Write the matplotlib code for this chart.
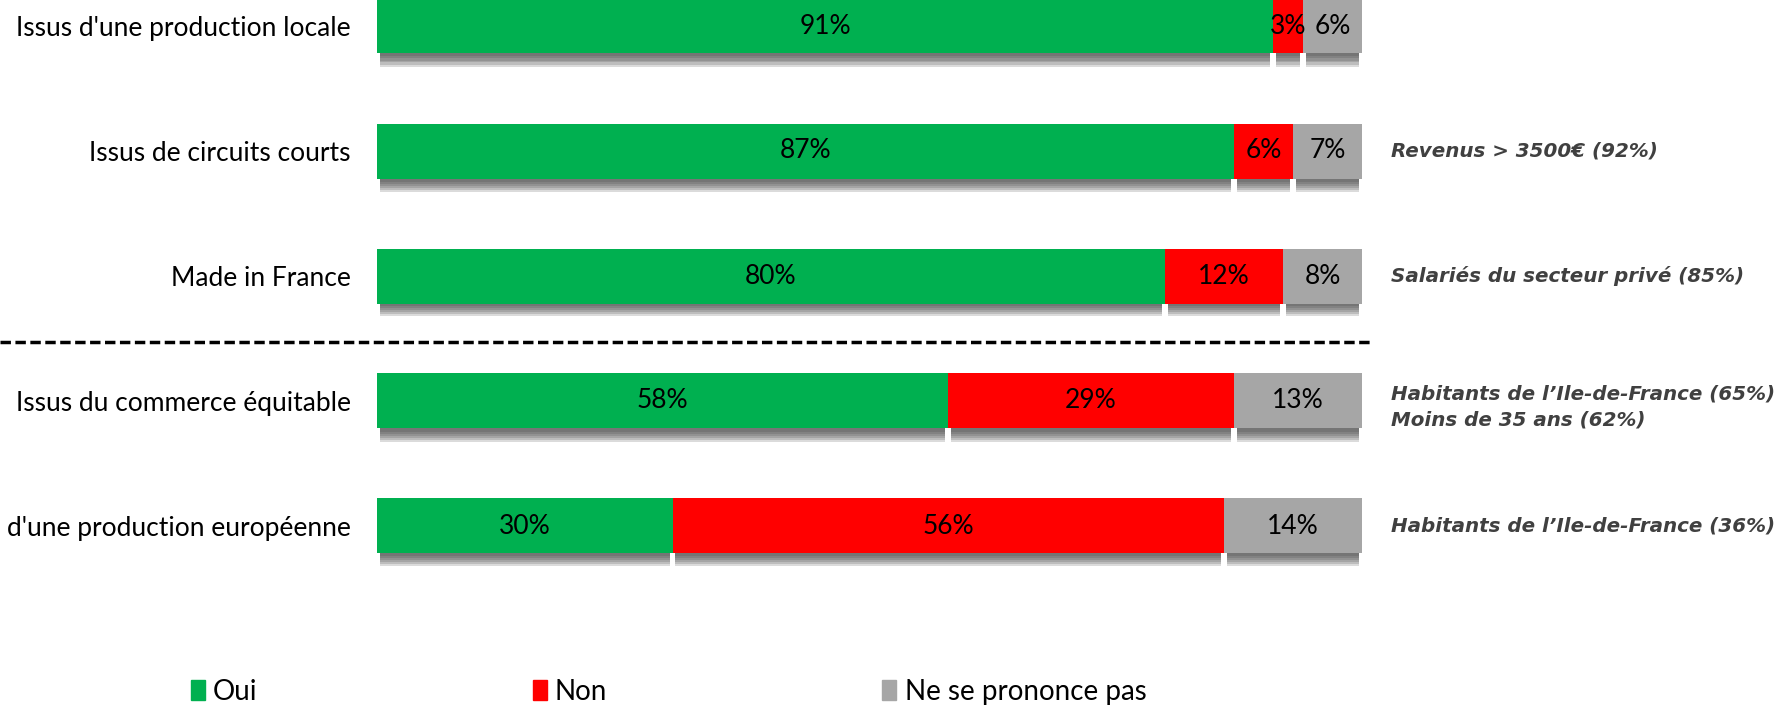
import matplotlib.pyplot as plt
from matplotlib.patches import Patch

# data
categories = ["Issus d'une production locale", "Issus de circuits courts", "Made in France",
              "Issus du commerce équitable", "d'une production européenne"]
oui = [91, 87, 80, 58, 30]
non = [3, 6, 12, 29, 56]
nsp = [6, 7, 8, 13, 14]
notes = ["", "Revenus > 3500€ (92%)", "Salariés du secteur privé (85%)",
         "Habitants de l’Ile-de-France (65%)\nMoins de 35 ans (62%)",
         "Habitants de l’Ile-de-France (36%)"]
series_names = ["Oui", "Non", "Ne se prononce pas"]
colors = ['#00B050', '#FF0000', '#A6A6A6']

plt.rcParams['font.family'] = ['Lato', 'DejaVu Sans']

W, H = 1787, 707
fig = plt.figure(figsize=(W / 100, H / 100), dpi=100)
ax = fig.add_axes([377 / W, 0, 985 / W, 1])

pitch = 125.0  # px between bars
y0 = 26.0      # px centre of first bar
ax.set_xlim(0, 100)
ax.set_ylim((H - y0) / pitch, -y0 / pitch)
bar_h = 55 / pitch

ypos = list(range(len(categories)))
series = [oui, non, nsp]

# soft shadow under each segment
for i, y in enumerate(ypos):
    left = 0
    for vals in series:
        v = vals[i]
        for off in [3, 5, 7, 9, 11, 13]:
            ax.barh(y + off / pitch, v - 0.6, left=left + 0.3, height=bar_h,
                    color='#404040', alpha=0.19, zorder=1, linewidth=0)
        left += v

# bars
lefts = [0] * len(categories)
for vals, col, name in zip(series, colors, series_names):
    ax.barh(ypos, vals, left=lefts, height=bar_h, color=col, zorder=3, linewidth=0)
    for y, v, l in zip(ypos, vals, lefts):
        ax.text(l + v / 2, y, f"{v}%", ha='center', va='center', fontsize=19,
                color='black', zorder=4)
    lefts = [a + b for a, b in zip(lefts, vals)]

# right-hand notes
for y, note in zip(ypos, notes):
    if note:
        dy = 0.05 if '\n' in note else 0
        ax.text(102.9, y + dy, note, ha='left', va='center', fontsize=14.3,
                fontweight='bold', style='italic', color='#404040',
                family='DejaVu Sans', linespacing=1.45, clip_on=False)

# separator
ax.axhline(2.528, xmin=-377 / 985, xmax=(1373 - 377) / 985, color='black',
           lw=2.5, dashes=(3.0, 1.3), clip_on=False)

ax.set_yticks(ypos)
ax.set_yticklabels(categories, fontsize=19)
ax.tick_params(axis='y', length=0, pad=19)
ax.set_xticks([])
for s in ax.spines.values():
    s.set_visible(False)

handles = [Patch(color=c, label=n) for c, n in zip(colors, series_names)]
fig.legend(handles=handles, loc='center left', bbox_to_anchor=(191 / W, 1 - 692 / H),
           ncol=3, frameon=False, fontsize=20, handlelength=0.5, handleheight=0.75,
           handletextpad=0.3, columnspacing=9.9, borderpad=0, borderaxespad=0)

fig.savefig('out.png', dpi=100)
